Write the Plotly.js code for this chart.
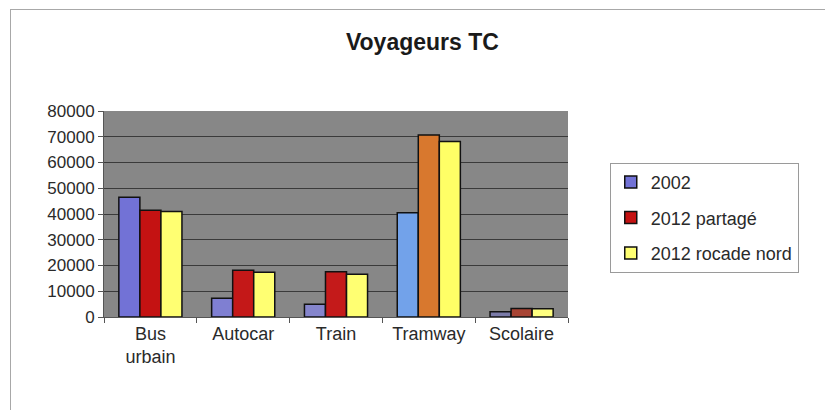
<!DOCTYPE html>
<html><head><meta charset="utf-8">
<script src="https://cdn.plot.ly/plotly-3.0.1.min.js"></script>
<style>
html,body{margin:0;padding:0;background:#fff;}
#wrap{position:relative;width:825px;height:410px;overflow:hidden;}
#frame{position:absolute;left:10px;top:9px;width:830px;height:420px;border:1px solid #a8a8a8;box-sizing:border-box;pointer-events:none;}
#chart{position:absolute;left:0;top:0;width:825px;height:410px;}
</style></head>
<body><div id="wrap"><div id="chart"></div><div id="frame"></div></div>
<script>
const categories = ["Bus<br>urbain", "Autocar", "Train", "Tramway", "Scolaire"];
const seriesNames = ["2002", "2012 partagé", "2012 rocade nord"];
const v2002 = [46500, 7300, 5000, 40500, 2000];
const vPartage = [41500, 18200, 17600, 70700, 3300];
const vRocade = [41000, 17400, 16600, 68200, 3200];
const yTicks = [0, 10000, 20000, 30000, 40000, 50000, 60000, 70000, 80000];

const colors2002 = ["#7272d6", "#7f7fd2", "#8585cc", "#72a2ea", "#7a7aa8"];
const colorsPartage = ["#c41212", "#c41818", "#c41a1a", "#d8782e", "#a84434"];
const colorsRocade = ["#ffff72", "#ffff72", "#ffff72", "#ffff66", "#ffff80"];

const line = {color: "#111", width: 1.5};
const traces = [
  {type: "bar", name: seriesNames[0], x: categories, y: v2002, marker: {color: colors2002, line: line}, legendgroup: "a"},
  {type: "bar", name: seriesNames[1], x: categories, y: vPartage, marker: {color: colorsPartage, line: line}, legendgroup: "b"},
  {type: "bar", name: seriesNames[2], x: categories, y: vRocade, marker: {color: colorsRocade, line: line}, legendgroup: "c"}
];

const layout = {
  width: 825, height: 410,
  margin: {l: 104, r: 257, t: 111, b: 93},
  paper_bgcolor: "rgba(0,0,0,0)",
  plot_bgcolor: "#878787",
  font: {family: "Liberation Sans, Arial, sans-serif", size: 17, color: "#2a2a2a"},
  title: {text: "<b>Voyageurs TC</b>", font: {size: 23, color: "#1a1a1a", family: "Liberation Sans, Arial, sans-serif"},
          xref: "container", x: 0.512, xanchor: "center", yref: "container", y: 0.898, yanchor: "middle"},
  barmode: "group", bargap: 0.32, bargroupgap: 0,
  showlegend: true,
  legend: {x: 1.09, xanchor: "left", y: 0.748, yanchor: "top", bgcolor: "#fff",
           bordercolor: "#9a9a9a", borderwidth: 1, font: {size: 18, color: "#2a2a2a"},
           tracegroupgap: 9, traceorder: "grouped"},
  xaxis: {type: "category", showgrid: false, ticks: "outside", tickson: "boundaries", ticklen: 5,
          tickcolor: "#555", showline: true, linecolor: "#555", linewidth: 1, tickfont: {size: 18}, fixedrange: true},
  yaxis: {range: [0, 80000], tickvals: yTicks, ticktext: yTicks.map(String), showgrid: true, gridcolor: "#3a3a3a",
          gridwidth: 1, zeroline: false, ticks: "outside", ticklen: 5, tickcolor: "#555", showline: true,
          linecolor: "#555", tickfont: {size: 17}, fixedrange: true}
};

Plotly.newPlot("chart", traces, layout, {displayModeBar: false, staticPlot: true});
</script></body></html>
